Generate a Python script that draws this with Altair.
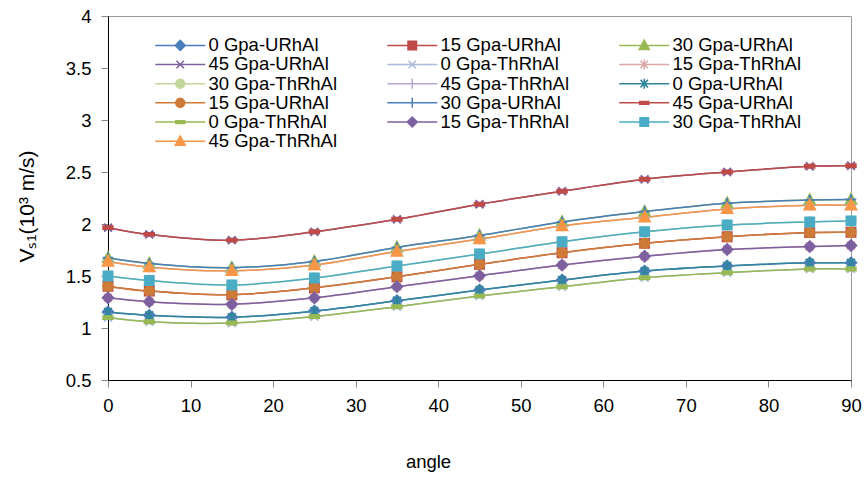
import re
import altair as alt
import pandas as pd

# ---------------- data ----------------
angles = [0, 5, 15, 25, 35, 45, 55, 65, 75, 85, 90]

vs1_0_URhAl = [1.154, 1.122, 1.103, 1.163, 1.262, 1.365, 1.461, 1.547, 1.596, 1.627, 1.627]
vs1_15_URhAl = [1.40, 1.355, 1.32, 1.387, 1.493, 1.612, 1.724, 1.814, 1.878, 1.917, 1.92]
vs1_30_URhAl = [1.675, 1.62, 1.58, 1.64, 1.775, 1.89, 2.02, 2.12, 2.20, 2.23, 2.235]
vs1_45_URhAl = [1.965, 1.90, 1.845, 1.925, 2.045, 2.19, 2.315, 2.43, 2.50, 2.555, 2.56]
vs1_0_ThRhAl = [1.10, 1.06, 1.048, 1.11, 1.205, 1.308, 1.397, 1.484, 1.532, 1.568, 1.568]
vs1_15_ThRhAl = [1.29, 1.253, 1.228, 1.29, 1.397, 1.502, 1.605, 1.69, 1.755, 1.783, 1.793]
vs1_30_ThRhAl = [1.50, 1.457, 1.413, 1.48, 1.596, 1.711, 1.83, 1.925, 1.99, 2.02, 2.03]
vs1_45_ThRhAl = [1.64, 1.585, 1.55, 1.605, 1.735, 1.855, 1.98, 2.065, 2.145, 2.18, 2.18]

series_labels = [
    "0 Gpa-URhAl", "15 Gpa-URhAl", "30 Gpa-URhAl", "45 Gpa-URhAl",
    "0 Gpa-ThRhAl", "15 Gpa-ThRhAl", "30 Gpa-ThRhAl", "45 Gpa-ThRhAl",
    "0 Gpa-URhAl", "15 Gpa-URhAl", "30 Gpa-URhAl", "45 Gpa-URhAl",
    "0 Gpa-ThRhAl", "15 Gpa-ThRhAl", "30 Gpa-ThRhAl", "45 Gpa-ThRhAl",
]
series_values = [
    vs1_0_URhAl, vs1_15_URhAl, vs1_30_URhAl, vs1_45_URhAl,
    vs1_0_ThRhAl, vs1_15_ThRhAl, vs1_30_ThRhAl, vs1_45_ThRhAl,
    vs1_0_URhAl, vs1_15_URhAl, vs1_30_URhAl, vs1_45_URhAl,
    vs1_0_ThRhAl, vs1_15_ThRhAl, vs1_30_ThRhAl, vs1_45_ThRhAl,
]

# ---------------- styles ----------------
series_colors = [
    "#4A7EBB", "#BE4B48", "#98B954", "#7D60A0",
    "#A9BCDB", "#D9A7A6", "#C3D69B", "#B7A8CB",
    "#31859C", "#CE7A38", "#4A7EBB", "#BE4B48",
    "#98B954", "#7D60A0", "#4BACC6", "#F79646",
]
P = {
    "diamond": "M0,-1L1,0L0,1L-1,0Z",
    "square": "M-0.85,-0.85L0.85,-0.85L0.85,0.85L-0.85,0.85Z",
    "triangle": "M0,-1.05L1,0.8L-1,0.8Z",
    "x": "M-0.75,-0.75L0.75,0.75M-0.75,0.75L0.75,-0.75",
    "star": "M-0.75,-0.75L0.75,0.75M-0.75,0.75L0.75,-0.75M0,-1L0,1",
    "plus": "M-1,0L1,0M0,-1L0,1",
    "dash": "M-0.9,-0.28L0.9,-0.28L0.9,0.28L-0.9,0.28Z",
}
series_markers = [
    "diamond", "square", "triangle", "x",
    "x", "star", "circle", "plus",
    "star", "circle", "plus", "dash",
    "dash", "diamond", "square", "triangle",
]


def circle_path(r):
    return f"M{r},0A{r},{r},0,1,1,{-r},0A{r},{r},0,1,1,{r},0Z"


def scaled(path, k):
    return re.sub(r"-?\d+(?:\.\d+)?", lambda m: f"{float(m.group()) * k:.3f}", path)


def plot_path(name):
    return circle_path(0.9) if name == "circle" else P[name]


def legend_path(name):
    k = 1.0
    mk = circle_path(0.9 * k) if name == "circle" else scaled(P[name], k)
    return "M-5,0L5,0" + mk


keys = [f"{i:02d}|{lab}" for i, lab in enumerate(series_labels)]

rows = []
for key, vals in zip(keys, series_values):
    for a, v in zip(angles, vals):
        rows.append({"angle": a, "vs": v, "key": key})
df = pd.DataFrame(rows)

# legend order: Vega fills legend columns top-to-bottom; two blank slots
# make the grid read row by row like the original (6 + 5 + 5 entries).
order = [0, 3, 6, 9, 12, 15, 1, 4, 7, 10, 13, None, 2, 5, 8, 11, 14, None]
dom, col_rng, plot_shapes, leg_shapes = [], [], [], []
blank = 0
for idx in order:
    if idx is None:
        dom.append(f"zz{blank}| ")
        blank += 1
        col_rng.append("transparent")
        plot_shapes.append("M0,0")
        leg_shapes.append("M0,0")
    else:
        dom.append(keys[idx])
        col_rng.append(series_colors[idx])
        plot_shapes.append(plot_path(series_markers[idx]))
        leg_shapes.append(legend_path(series_markers[idx]))

cscale = alt.Scale(domain=dom, range=col_rng)
pshape = alt.Scale(domain=dom, range=plot_shapes)
lshape = alt.Scale(domain=dom, range=leg_shapes)

x_enc = alt.X(
    "angle:Q",
    scale=alt.Scale(domain=[0, 90], nice=False),
    axis=alt.Axis(values=list(range(0, 91, 10)), title="angle", titleX=320, titleY=81,
                  titleBaseline="middle", titleAlign="center", labelPadding=9,
                  labelFlush=False),
)
y_enc = alt.Y(
    "vs:Q",
    scale=alt.Scale(domain=[0.5, 4], nice=False, zero=False),
    axis=alt.Axis(values=[0.5, 1, 1.5, 2, 2.5, 3, 3.5, 4], format=".1~f",
                  title="Vₛ₁(10³ m/s)", titleX=-81, titleY=190, titleAngle=270,
                  titleAlign="center", titleBaseline="middle", labelPadding=10,
                  labelFlush=False, titleFontSize=21),
)

lines = alt.Chart(df).mark_line(interpolate="catmull-rom", strokeWidth=1.5).encode(
    x=x_enc, y=y_enc,
    stroke=alt.Stroke("key:N", scale=cscale, legend=None),
)

points = alt.Chart(df).mark_point(filled=True, size=110, strokeWidth=2, opacity=1).encode(
    x=x_enc, y=y_enc,
    fill=alt.Fill("key:N", scale=cscale, legend=None),
    stroke=alt.Stroke("key:N", scale=cscale, legend=None),
    shape=alt.Shape("key:N", scale=pshape, legend=None),
    order=alt.Order("key:N"),
)

leg = alt.Legend(
    title=None, orient="none", legendX=44, legendY=20, columns=3,
    labelExpr="split(datum.label, '|')[1]",
)
legend_layer = alt.Chart(df).transform_filter("false").mark_point(
    filled=True, size=100, strokeWidth=1.5, opacity=1
).encode(
    x=x_enc, y=y_enc,
    fill=alt.Fill("key:N", scale=cscale, legend=leg),
    stroke=alt.Stroke("key:N", scale=cscale, legend=leg),
    shape=alt.Shape("key:N", scale=lshape, legend=leg),
)

chart = (
    alt.layer(lines, points, legend_layer)
    .resolve_scale(fill="independent", stroke="independent", shape="independent")
    .properties(width=743, height=364,
                autosize=alt.AutoSizeParams(type="none"),
                padding={"left": 108, "top": 16, "right": 14, "bottom": 99},
                background="white")
    .configure_view(stroke="#9a9a9a", strokeWidth=1)
    .configure_axis(
        labelFont="Liberation Sans", labelFontSize=18.5, labelColor="black",
        titleFont="Liberation Sans", titleFontSize=18.5, titleFontWeight="normal",
        titleColor="black", tickColor="#888888", tickSize=7, domainColor="black",
        grid=False,
    )
    .configure_legend(
        labelFont="Liberation Sans", labelFontSize=18.5, labelColor="black",
        symbolSize=100, symbolStrokeWidth=1.5, symbolOffset=19, labelOffset=19,
        rowPadding=0.2, columnPadding=46, padding=0, gridAlign="all",
        labelLimit=400,
    )
)

chart.save("out.html", embed_options={"renderer": "svg", "actions": False})
